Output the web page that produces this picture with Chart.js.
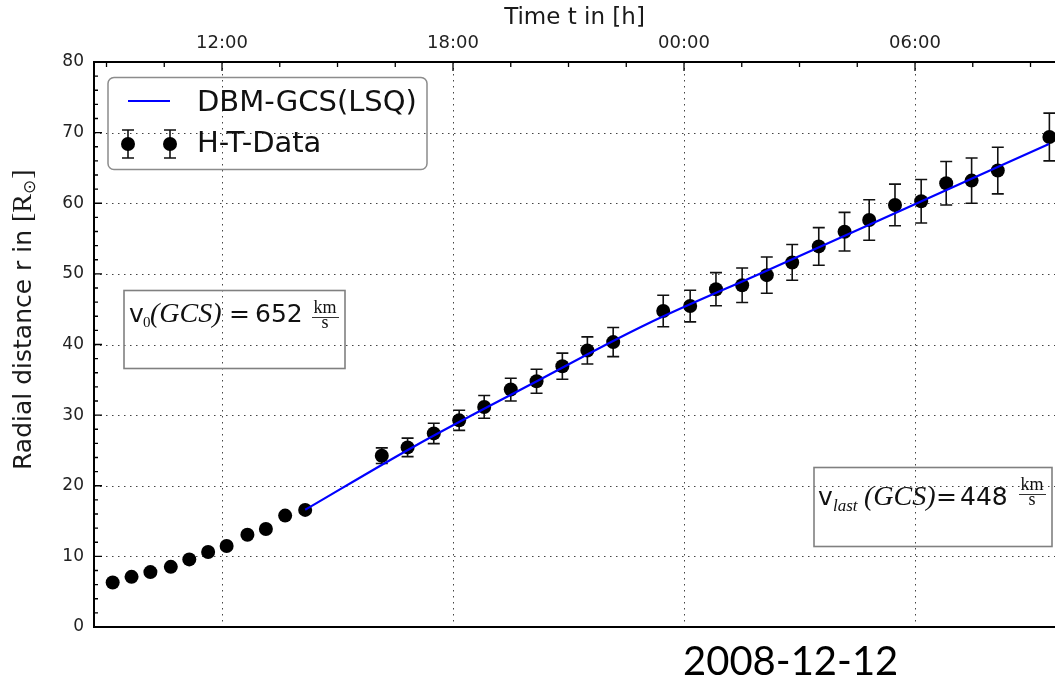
<!DOCTYPE html>
<html>
<head>
<meta charset="utf-8">
<script src="https://cdn.jsdelivr.net/npm/chart.js@4.4.1/dist/chart.umd.min.js"></script>
<style>
  html, body { margin: 0; padding: 0; background: #fff; }
  #wrap { position: relative; width: 1055px; height: 681px; }
</style>
</head>
<body>
<div id="wrap"><canvas id="chartHT"></canvas></div>
<script>
// time in hours relative to 2008-12-12 00:00
const htTime = [-14.84, -14.35, -13.86, -13.33, -12.85, -12.36, -11.88, -11.34, -10.86, -10.36, -9.84,
    -7.85, -7.18, -6.50, -5.84, -5.19, -4.50, -3.83, -3.16, -2.51, -1.84,
    -0.54, 0.16, 0.83, 1.51, 2.15, 2.81, 3.50, 4.17, 4.81, 5.48, 6.16, 6.81, 7.47, 8.15, 9.49];
const htR = [6.31, 7.10, 7.77, 8.52, 9.57, 10.61, 11.46, 13.07, 13.88, 15.77, 16.58,
    24.25, 25.43, 27.41, 29.26, 31.16, 33.62, 34.80, 36.93, 39.16, 40.34,
    44.74, 45.45, 47.83, 48.39, 49.82, 51.62, 53.89, 55.97, 57.63, 59.76, 60.28, 62.84, 63.21, 64.63, 69.38];
const htErr = [null, null, null, null, null, null, null, null, null, null, null,
    1.11, 1.31, 1.45, 1.42, 1.61, 1.61, 1.70, 1.85, 1.92, 2.06,
    2.23, 2.24, 2.34, 2.44, 2.56, 2.53, 2.66, 2.74, 2.87, 2.95, 3.08, 3.08, 3.20, 3.30, 3.38];

// DBM-GCS(LSQ) fit curve
const fitTime = [-9.84, -7, -4, -1, 2, 5, 9.48];
const fitR = [16.6, 25.6, 34.3, 42.8, 50.1, 57.4, 68.4];

const xTickVals = [-12, -6, 0, 6];
const xTickLabels = ["12:00", "18:00", "00:00", "06:00"];
const xMinorVals = [-15, -13.5, -10.5, -9, -7.5, -4.5, -3, -1.5, 1.5, 3, 4.5, 7.5, 9];
const yGridVals = [10, 20, 30, 40, 50, 60, 70];
const yMinorVals = [2, 4, 6, 8, 12, 14, 16, 18, 22, 24, 26, 28, 32, 34, 36, 38, 42, 44, 46, 48,
    52, 54, 56, 58, 62, 64, 66, 68, 72, 74, 76, 78];

const SANS = '"DejaVu Sans"';
const SERIF = '"Liberation Serif"';
const BLUE = "#0000ff";

function errBar(ctx, px, top, bot, cap) {
    ctx.beginPath();
    ctx.moveTo(px, top); ctx.lineTo(px, bot);
    ctx.moveTo(px - cap, top); ctx.lineTo(px + cap, top);
    ctx.moveTo(px - cap, bot); ctx.lineTo(px + cap, bot);
    ctx.stroke();
}

function txt(ctx, s, font, x, y, align) {
    ctx.font = font;
    ctx.textAlign = align || "left";
    ctx.fillText(s, x, y);
}

function velBox(ctx, b) {
    ctx.strokeStyle = "#808080"; ctx.lineWidth = 1.6;
    ctx.strokeRect(b.x, b.y, b.w, b.h);
    ctx.fillStyle = "#111"; ctx.textBaseline = "alphabetic";
    txt(ctx, "v", "25px " + SANS, b.vx, b.base);
    txt(ctx, b.sub, b.subFont, b.subX, b.base + b.subDy);
    txt(ctx, "(GCS)", "italic 28px " + SERIF, b.gx, b.base);
    txt(ctx, "=", "25px " + SANS, b.ex, b.base);
    txt(ctx, b.val, "25px " + SANS, b.nx, b.base);
    txt(ctx, "km", "18px " + SERIF, b.fx, b.fy - 4, "center");
    txt(ctx, "s", "18px " + SERIF, b.fx, b.fy + 11, "center");
    ctx.strokeStyle = "#333"; ctx.lineWidth = 1;
    ctx.beginPath(); ctx.moveTo(b.fx - 13, b.fy + 0.5); ctx.lineTo(b.fx + 14, b.fy + 0.5); ctx.stroke();
}

const decor = {
    id: "decor",
    beforeDatasetsDraw(chart) {
        const { ctx, chartArea: a, scales: { x, y } } = chart;
        ctx.save();
        // dotted grid
        ctx.strokeStyle = "#444"; ctx.lineWidth = 1; ctx.setLineDash([1.5, 4.5]);
        xTickVals.forEach(v => {
            const px = Math.round(x.getPixelForValue(v)) + 0.5;
            ctx.beginPath(); ctx.moveTo(px, a.top); ctx.lineTo(px, a.bottom); ctx.stroke();
        });
        yGridVals.forEach(v => {
            const py = Math.round(y.getPixelForValue(v)) + 0.5;
            ctx.beginPath(); ctx.moveTo(a.left, py); ctx.lineTo(a.right, py); ctx.stroke();
        });
        ctx.setLineDash([]);
        // error bars
        ctx.strokeStyle = "#111"; ctx.lineWidth = 1.6;
        htTime.forEach((t, i) => {
            const e = htErr[i];
            if (e == null) return;
            errBar(ctx, x.getPixelForValue(t), y.getPixelForValue(htR[i] + e), y.getPixelForValue(htR[i] - e), 6);
        });
        ctx.restore();
    },
    afterDraw(chart) {
        const { ctx, chartArea: a, scales: { x, y } } = chart;
        ctx.save();
        // spines
        ctx.strokeStyle = "#000"; ctx.lineWidth = 2;
        ctx.beginPath();
        ctx.moveTo(a.right, a.top); ctx.lineTo(a.left, a.top);
        ctx.lineTo(a.left, a.bottom); ctx.lineTo(a.right, a.bottom);
        ctx.stroke();
        // inward ticks
        ctx.lineWidth = 1.3;
        ctx.beginPath();
        xTickVals.forEach(v => { const px = x.getPixelForValue(v); ctx.moveTo(px, a.top); ctx.lineTo(px, a.top + 9); });
        xMinorVals.forEach(v => { const px = x.getPixelForValue(v); ctx.moveTo(px, a.top); ctx.lineTo(px, a.top + 5); });
        yGridVals.forEach(v => { const py = y.getPixelForValue(v); ctx.moveTo(a.left, py); ctx.lineTo(a.left + 8, py); });
        yMinorVals.forEach(v => { const py = y.getPixelForValue(v); ctx.moveTo(a.left, py); ctx.lineTo(a.left + 4, py); });
        ctx.stroke();

        // legend
        ctx.strokeStyle = "#8c8c8c"; ctx.lineWidth = 1.5;
        ctx.beginPath(); ctx.roundRect(108, 77.5, 319, 92, 6); ctx.stroke();
        ctx.strokeStyle = BLUE; ctx.lineWidth = 2;
        ctx.beginPath(); ctx.moveTo(128, 101); ctx.lineTo(170, 101); ctx.stroke();
        ctx.strokeStyle = "#111"; ctx.lineWidth = 1.6; ctx.fillStyle = "#000";
        [128, 170].forEach(px => {
            errBar(ctx, px, 130, 158, 6);
            ctx.beginPath(); ctx.arc(px, 144, 7, 0, Math.PI * 2); ctx.fill();
        });
        ctx.fillStyle = "#111"; ctx.textBaseline = "middle";
        txt(ctx, "DBM-GCS(LSQ)", "29px " + SANS, 197, 103);
        txt(ctx, "H-T-Data", "29px " + SANS, 197, 144);

        // velocity boxes
        velBox(ctx, { x: 124, y: 290.5, w: 221, h: 78, vx: 129, base: 322, sub: "0", subFont: "15px " + SERIF,
            subX: 143, subDy: 5, gx: 150, ex: 229, val: "652", nx: 255, fx: 325, fy: 317 });
        velBox(ctx, { x: 814, y: 467.5, w: 238, h: 79, vx: 818, base: 505, sub: "last", subFont: "italic 17px " + SERIF,
            subX: 833, subDy: 6, gx: 864, ex: 936, val: "448", nx: 960, fy: 494, fx: 1032 });

        // y axis title
        ctx.save();
        ctx.translate(24, 470);
        ctx.rotate(-Math.PI / 2);
        ctx.fillStyle = "#1a1a1a"; ctx.textBaseline = "middle"; ctx.textAlign = "left";
        ctx.font = "25px " + SANS;
        const t1 = "Radial distance r in ";
        ctx.fillText(t1, 0, 0);
        let cx = ctx.measureText(t1).width;
        ctx.font = "28px " + SERIF;
        ctx.fillText("[R", cx, 0);
        cx += ctx.measureText("[R").width;
        ctx.font = "17px " + SANS;
        ctx.fillText("\u2299", cx, 7);
        cx += ctx.measureText("\u2299").width + 1;
        ctx.font = "28px " + SERIF;
        ctx.fillText("]", cx, 0);
        ctx.restore();

        // date below the axes
        ctx.fillStyle = "#000"; ctx.textBaseline = "alphabetic";
        txt(ctx, "2008-12-12", "40px Lato", 683, 675);
        ctx.restore();
    }
};

new Chart(document.getElementById("chartHT"), {
    type: "scatter",
    data: {
        datasets: [
            {
                label: "DBM-GCS(LSQ)",
                data: fitTime.map((t, i) => ({ x: t, y: fitR[i] })),
                showLine: true, borderColor: BLUE, borderWidth: 2.2,
                pointRadius: 0, cubicInterpolationMode: "monotone",
            },
            {
                label: "H-T-Data",
                data: htTime.map((t, i) => ({ x: t, y: htR[i] })),
                pointRadius: 7, pointBackgroundColor: "#000", pointBorderWidth: 0,
            },
        ],
    },
    options: {
        responsive: true, maintainAspectRatio: false, animation: false,
        layout: { autoPadding: false, padding: { left: 0, top: 0, right: 0, bottom: 54 } },
        plugins: { legend: { display: false }, tooltip: { enabled: false } },
        scales: {
            x: {
                type: "linear", position: "top", min: -15.325, max: 9.636,
                afterBuildTicks: s => { s.ticks = xTickVals.map(v => ({ value: v })); },
                afterFit: s => { s.height = 62; },
                grid: { display: false, drawTicks: false },
                border: { display: false },
                ticks: {
                    padding: 8, color: "#222", font: { family: "DejaVu Sans", size: 18 },
                    callback: v => xTickLabels[xTickVals.indexOf(v)],
                },
                title: { display: true, text: "Time t in [h]", color: "#1a1a1a",
                    font: { family: "DejaVu Sans", size: 23 }, padding: { top: 4, bottom: 0 } },
            },
            y: {
                min: 0, max: 80,
                afterFit: s => { s.width = 94; },
                grid: { display: false, drawTicks: false },
                border: { display: false },
                ticks: { stepSize: 10, padding: 10, color: "#222", font: { family: "DejaVu Sans", size: 17 } },
            },
        },
    },
    plugins: [decor],
});
</script>
</body>
</html>
